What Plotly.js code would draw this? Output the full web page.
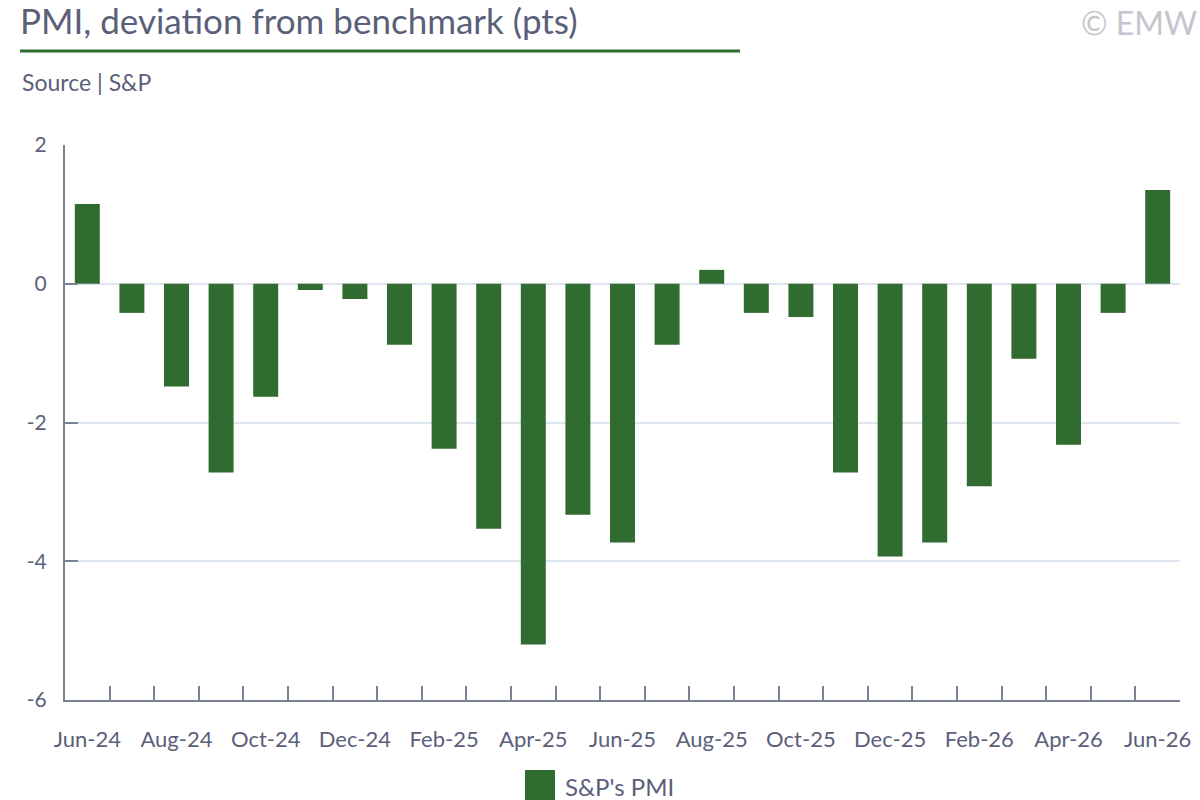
<!DOCTYPE html>
<html>
<head>
<meta charset="utf-8">
<script src="https://cdn.plot.ly/plotly-3.0.1.min.js"></script>
<style>
  html, body { margin: 0; padding: 0; background: #fff; }
  #chart { width: 1200px; height: 800px; }
</style>
</head>
<body>
<div id="chart"></div>
<script>
const CHART = document.getElementById('chart');

// months, Jun-24 .. Jun-26
const months = ['Jun-24', 'Jul-24', 'Aug-24', 'Sep-24', 'Oct-24', 'Nov-24', 'Dec-24',
    'Jan-25', 'Feb-25', 'Mar-25', 'Apr-25', 'May-25', 'Jun-25', 'Jul-25', 'Aug-25',
    'Sep-25', 'Oct-25', 'Nov-25', 'Dec-25', 'Jan-26', 'Feb-26', 'Mar-26', 'Apr-26',
    'May-26', 'Jun-26'];

// deviation from benchmark, pts
const pmiDev = [1.15, -0.42, -1.48, -2.72, -1.63, -0.09, -0.22, -0.88, -2.38, -3.53,
    -5.2, -3.33, -3.73, -0.88, 0.2, -0.42, -0.48, -2.72, -3.93, -3.73, -2.92,
    -1.08, -2.32, -0.42, 1.35];

const yTicks = [-6, -4, -2, 0, 2];
const yTickText = ['-6', '-4', '-2', '0', '2'];  // plain hyphen like the original

const seriesName = "S&P's PMI";

// every second month gets a label
const xLabels = months.map((m, i) => (i % 2 === 0 ? m : ''));

const GREEN = '#306b30';
const TEXT = '#5b607a';
const AXIS = '#7b8296';
const FONT = 'Lato, "Open Sans", sans-serif';

// plot box in pixels, used to place the header / legend bits in paper coords
const L = 65, R = 1180, T = 145, B = 700;
const px = x => (x - L) / (R - L);
const py = y => (B - y) / (B - T);

var pmi = {
    x: months,
    y: pmiDev,
    type: 'bar',
    name: seriesName,
    width: 0.56,
    marker: { color: GREEN },
    showlegend: false,
    hovertemplate: '%{x}: %{y}<extra></extra>'
};

var layout = {
    width: 1200,
    height: 800,
    margin: { l: L, r: 1200 - R, t: T, b: 800 - B, autoexpand: false },
    paper_bgcolor: '#fff',
    plot_bgcolor: '#fff',
    font: { family: FONT, color: TEXT, size: 20 },
    title: {
        text: 'PMI, deviation from benchmark (pts)',
        xref: 'container', x: 20 / 1200, xanchor: 'left',
        yref: 'container', y: 1 - 22 / 800, yanchor: 'middle',
        font: { family: FONT, size: 35, color: TEXT }
    },
    xaxis: {
        type: 'category',
        tickmode: 'array',
        tickvals: months,
        ticktext: xLabels,
        tickson: 'boundaries',
        tickangle: 0,
        ticks: 'inside',
        ticklen: 14,
        tickwidth: 2,
        tickcolor: AXIS,
        showline: true,
        linecolor: AXIS,
        linewidth: 2,
        showgrid: false,
        zeroline: false,
        automargin: false,
        ticklabelstandoff: 19,
        tickfont: { size: 22, color: TEXT },
        fixedrange: true
    },
    yaxis: {
        range: [-6, 2],
        tickmode: 'array',
        tickvals: yTicks,
        ticktext: yTickText,
        ticks: 'inside',
        ticklen: 13,
        tickwidth: 2,
        tickcolor: AXIS,
        showline: true,
        linecolor: AXIS,
        linewidth: 2,
        showgrid: true,
        gridcolor: '#dde5ef',
        gridwidth: 2,
        zeroline: false,
        automargin: false,
        ticklabelstandoff: 12,
        tickfont: { size: 21, color: TEXT },
        fixedrange: true
    },
    showlegend: false,
    shapes: [{
        // green rule under the title
        type: 'line',
        xref: 'paper', yref: 'paper',
        x0: px(20), x1: px(740), y0: py(51), y1: py(51),
        line: { color: GREEN, width: 3 }
    }, {
        // legend swatch
        type: 'rect',
        xref: 'paper', yref: 'paper',
        x0: px(525), x1: px(555), y0: py(770), y1: py(800),
        fillcolor: GREEN,
        line: { width: 0 }
    }],
    annotations: [{
        text: 'Source | S&P',
        xref: 'paper', yref: 'paper',
        x: px(20), xanchor: 'left',
        y: py(82), yanchor: 'middle',
        showarrow: false,
        font: { size: 23, color: TEXT }
    }, {
        text: '© EMW',
        xref: 'paper', yref: 'paper',
        x: px(1199), xanchor: 'right',
        y: py(22), yanchor: 'middle',
        showarrow: false,
        font: { size: 32, color: '#c3c6cd' }
    }, {
        text: seriesName,
        xref: 'paper', yref: 'paper',
        x: px(563), xanchor: 'left',
        y: py(786), yanchor: 'middle',
        showarrow: false,
        font: { size: 24, color: TEXT }
    }]
};

Plotly.newPlot(CHART, [pmi], layout, { displayModeBar: false, staticPlot: true });
</script>
</body>
</html>
